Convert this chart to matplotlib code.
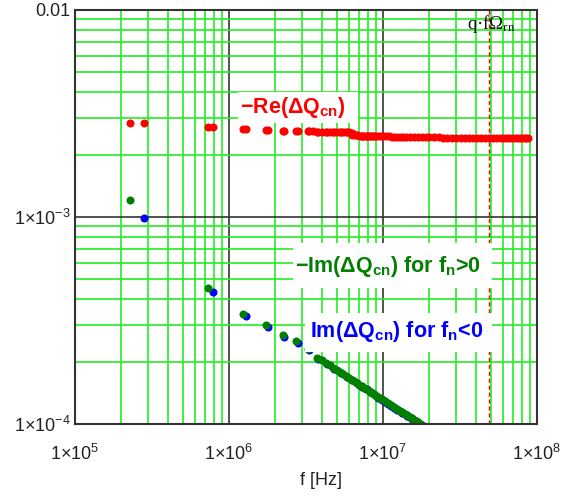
import matplotlib
matplotlib.use("Agg")
import matplotlib.pyplot as plt
from matplotlib.patches import Rectangle
from matplotlib.ticker import FixedLocator, NullFormatter

plt.rcParams["font.family"] = ["Liberation Sans", "DejaVu Sans"]
plt.rcParams["mathtext.fontset"] = "custom"
plt.rcParams["mathtext.rm"] = "Liberation Sans"
plt.rcParams["mathtext.bf"] = "Liberation Sans:bold"
plt.rcParams["mathtext.it"] = "Liberation Sans:italic"
plt.rcParams["mathtext.default"] = "regular"

# --- data (frequencies in MHz) ---
# -Im(dQ) for f_n > 0
f_pos = [0.227, 0.730, 1.233, 1.736, 2.239, 2.742, 3.245,
         3.748, 4.0, 4.251, 4.5, 4.754, 5.0, 5.257, 5.5, 5.760, 6.0, 6.263, 6.5,
         6.766, 7.0, 7.269, 7.5, 7.772, 8.0, 8.275, 8.5, 8.778, 9.0, 9.281, 9.5,
         9.784, 10.287, 10.790, 11.293, 11.796,
         12.299, 12.802, 13.305, 13.808, 14.311, 14.814, 15.317, 15.820,
         16.323, 16.826, 17.329, 17.832]
im_pos = [1.21e-3, 4.54e-4, 3.40e-4, 3.00e-4, 2.69e-4, 2.52e-4, 2.30e-4,
          2.09e-4, 2.03e-4, 1.97e-4, 1.92e-4, 1.87e-4, 1.82e-4, 1.78e-4, 1.74e-4, 1.70e-4,
          1.67e-4, 1.64e-4, 1.61e-4, 1.58e-4, 1.55e-4, 1.52e-4, 1.50e-4, 1.48e-4,
          1.455e-4, 1.43e-4, 1.41e-4, 1.39e-4, 1.37e-4, 1.35e-4, 1.335e-4,
          1.32e-4, 1.29e-4, 1.26e-4, 1.23e-4, 1.21e-4,
          1.18e-4, 1.16e-4, 1.14e-4, 1.12e-4, 1.10e-4, 1.08e-4, 1.066e-4, 1.049e-4,
          1.034e-4, 1.019e-4, 1.004e-4, 0.99e-4]

# Im(dQ) for f_n < 0
f_neg = [0.280, 0.783, 1.286, 1.789, 2.292, 2.795, 3.298,
         3.801, 4.304, 4.807, 5.310, 5.813, 6.316, 6.819, 7.322, 7.825,
         8.328, 8.831, 9.334, 9.837, 10.340, 10.843, 11.346, 11.849,
         12.352, 12.855, 13.358, 13.861, 14.364, 14.867, 15.370, 15.873,
         16.376, 16.879, 17.382, 17.885]
im_neg = [9.9e-4, 4.35e-4, 3.33e-4, 2.94e-4, 2.64e-4, 2.46e-4, 2.27e-4,
          2.06e-4, 1.95e-4, 1.85e-4, 1.76e-4, 1.69e-4, 1.63e-4, 1.57e-4, 1.51e-4, 1.47e-4,
          1.42e-4, 1.38e-4, 1.34e-4, 1.31e-4, 1.28e-4, 1.25e-4, 1.225e-4, 1.20e-4,
          1.175e-4, 1.155e-4, 1.135e-4, 1.115e-4, 1.095e-4, 1.078e-4, 1.06e-4, 1.045e-4,
          1.03e-4, 1.015e-4, 1.0e-4, 0.985e-4]

# -Re(dQ)
f_re = [0.227, 0.280, 0.730, 0.783, 1.233, 1.286, 1.736, 1.789, 2.239, 2.292,
        2.742, 2.795, 3.245, 3.298, 3.50, 3.748, 3.801, 4.03, 4.251, 4.304, 4.53,
        4.754, 4.807, 5.03, 5.257, 5.310, 5.53, 5.760, 5.813, 6.03, 6.263, 6.316,
        6.55, 6.766, 6.819, 7.05, 7.269, 7.322, 7.55, 7.772, 7.825, 8.05, 8.275,
        8.328, 8.55, 8.778, 8.831, 9.1, 9.5, 9.8, 10.0, 10.5, 11.0,
        11.5, 12.0, 12.5, 13.0, 13.5, 14.0, 15.0, 16.0, 17.0, 18.0, 19.0,
        20.0, 21.5, 23.0, 24.5, 26.0, 28.0, 30.0, 32.0, 34.0, 36.0,
        38.5, 41.0, 43.5, 46.0, 49.0, 52.0, 55.0, 58.0, 61.0, 64.0,
        67.0, 70.0, 73.0, 76.0, 79.0, 82.0, 85.0, 87.5]
re_val = [2.84e-3, 2.84e-3, 2.73e-3, 2.72e-3, 2.66e-3, 2.65e-3, 2.63e-3, 2.63e-3, 2.61e-3, 2.61e-3,
          2.60e-3, 2.60e-3, 2.59e-3, 2.59e-3, 2.59e-3, 2.58e-3, 2.58e-3, 2.58e-3, 2.58e-3, 2.58e-3, 2.58e-3,
          2.57e-3, 2.57e-3, 2.57e-3, 2.57e-3, 2.56e-3, 2.56e-3, 2.56e-3, 2.56e-3, 2.56e-3, 2.55e-3, 2.48e-3,
          2.48e-3, 2.48e-3, 2.48e-3, 2.47e-3, 2.47e-3, 2.47e-3, 2.47e-3, 2.47e-3, 2.47e-3, 2.47e-3, 2.47e-3,
          2.47e-3, 2.47e-3, 2.47e-3, 2.47e-3, 2.46e-3, 2.46e-3, 2.46e-3, 2.46e-3, 2.46e-3, 2.46e-3,
          2.43e-3, 2.43e-3, 2.43e-3, 2.43e-3, 2.43e-3, 2.43e-3, 2.43e-3, 2.43e-3, 2.43e-3, 2.43e-3, 2.43e-3,
          2.43e-3, 2.43e-3, 2.43e-3, 2.42e-3, 2.42e-3, 2.40e-3, 2.40e-3, 2.40e-3, 2.40e-3, 2.40e-3,
          2.40e-3, 2.40e-3, 2.40e-3, 2.40e-3, 2.40e-3, 2.40e-3, 2.40e-3, 2.40e-3, 2.40e-3, 2.40e-3,
          2.40e-3, 2.40e-3, 2.40e-3, 2.40e-3, 2.40e-3, 2.40e-3, 2.40e-3, 2.40e-3]

f_q = 48.7  # q*f0rn marker line, MHz

x_ticks = [1e5, 1e6, 1e7, 1e8]
x_labels = [r"$1{\times}10^{5}$", r"$1{\times}10^{6}$", r"$1{\times}10^{7}$", r"$1{\times}10^{8}$"]
y_ticks = [1e-4, 1e-3, 1e-2]
y_labels = [r"$1{\times}10^{-4}$", r"$1{\times}10^{-3}$", "0.01"]

MHZ = 1e6

fig = plt.figure(figsize=(5.62, 4.98), dpi=100)
ax = fig.add_axes([75 / 562, 74 / 498, 462 / 562, 414 / 498])

ms = 5.8
ax.plot([f * MHZ for f in f_re], re_val, "o", color="#ff0000", ms=ms, mew=0, zorder=3)
ax.plot([f * MHZ for f in f_neg], im_neg, "o", color="#0000ff", ms=ms, mew=0, zorder=3)
ax.plot([f * MHZ for f in f_pos], im_pos, "o", color="#007f00", ms=ms, mew=0, zorder=3.1)

ax.axvline(f_q * MHZ, color="#ff0000", lw=1, ls=(0, (3, 2)), zorder=2)

ax.set_xscale("log")
ax.set_yscale("log")
ax.set_xlim(1e5, 1e8)
ax.set_ylim(1e-4, 1e-2)

ax.xaxis.set_major_locator(FixedLocator(x_ticks))
ax.yaxis.set_major_locator(FixedLocator(y_ticks))
ax.set_xticklabels(x_labels)
ax.set_yticklabels(y_labels)
ax.xaxis.set_minor_formatter(NullFormatter())
ax.yaxis.set_minor_formatter(NullFormatter())
ax.tick_params(which="both", length=0)
ax.tick_params(axis="x", pad=14, labelsize=13, colors="#222222")
ax.tick_params(axis="y", pad=3, labelsize=13, colors="#222222")

ax.grid(which="minor", color="#22ee22", lw=1.2)
ax.grid(which="major", color="#333333", lw=1.2)
ax.set_axisbelow(True)
for s in ax.spines.values():
    s.set_color("#333333")
    s.set_linewidth(1.5)
    s.set_zorder(5)


def px_box(x0, y0, x1, y1):
    # pixel rectangle (top-left origin) -> axes fraction
    fx0 = (x0 - 75) / 462
    fx1 = (x1 - 75) / 462
    fy0 = 1 - (y1 - 10) / 414
    fy1 = 1 - (y0 - 10) / 414
    return Rectangle((fx0, fy0), fx1 - fx0, fy1 - fy0, transform=ax.transAxes,
                     facecolor="white", edgecolor="none", zorder=4)


ax.add_patch(px_box(238, 92, 358, 123))
ax.add_patch(px_box(293, 243, 492, 288))
ax.add_patch(px_box(305, 313, 492, 352))

lab_kw = dict(transform=ax.transAxes, fontsize=15.5, fontweight="bold",
              ha="left", va="baseline", zorder=6)
ax.text((240 - 75) / 462, 1 - (113 - 10) / 414, r"−Re(ΔQ$\mathbf{_{cn}}$)",
        color="#ff0000", **lab_kw)
ax.text((295 - 75) / 462, 1 - (272 - 10) / 414,
        r"−Im(ΔQ$\mathbf{_{cn}}$) for f$\mathbf{_{n}}$>0", color="#007f00", **lab_kw)
ax.text((310 - 75) / 462, 1 - (337 - 10) / 414,
        r"Im(ΔQ$\mathbf{_{cn}}$) for f$\mathbf{_{n}}$<0", color="#0000ff", **lab_kw)

ax.text((467 - 75) / 462, 1 - (29 - 10) / 414, r"q·fΩ$_{\rm rn}$",
        transform=ax.transAxes, fontsize=13.5, family="Liberation Serif",
        math_fontfamily="stix", ha="left", va="baseline", color="#111111", zorder=6)

fig.text(321 / 562, 1 - 480 / 498, "f [Hz]", fontsize=13, ha="center", va="center",
         color="#222222")

fig.savefig("out.png", dpi=100)
